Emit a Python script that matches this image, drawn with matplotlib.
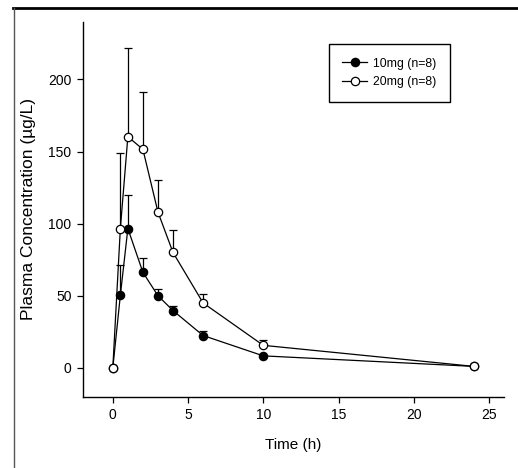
import numpy as np
import matplotlib
matplotlib.use("Agg")
import matplotlib.pyplot as plt
from matplotlib.lines import Line2D

plt.rcParams['font.family'] = ['Liberation Sans', 'DejaVu Sans']

time_h = [0, 0.5, 1, 2, 3, 4, 6, 10, 24]
mean_10mg = [0, 50.2, 96.6, 66.2, 50.0, 39.7, 22.4, 8.3, 1.0]
upper_10mg = [0, 71.5, 119.5, 76.1, 54.7, 43.1, 25.8, 0, 0]
mean_20mg = [0, 96.4, 160.3, 151.5, 108.0, 80.0, 45.0, 15.6, 1.0]
upper_20mg = [0, 149.2, 222.1, 191.2, 130.5, 95.5, 51.4, 19.1, 0]
labels = ['10mg (n=8)', '20mg (n=8)']
xticks = [0, 5, 10, 15, 20, 25]
yticks = [0, 50, 100, 150, 200]

fig = plt.figure(figsize=(5.18, 4.68), dpi=100)
ax = fig.add_axes([0.1597, 0.1524, 0.9730 - 0.1597, 0.9536 - 0.1524])

def draw(mean, upper, face, label):
    t = np.array(time_h, dtype=float)
    m = np.array(mean, dtype=float)
    u = np.array(upper, dtype=float)
    mask = u > m
    ax.errorbar(t[mask], m[mask], yerr=[np.zeros(mask.sum()), (u - m)[mask]],
                fmt='none', ecolor='black', elinewidth=0.9, capsize=3.2,
                capthick=0.9, zorder=2)
    ax.plot(t, m, '-', color='black', lw=0.9, marker='o', markersize=6,
            markerfacecolor=face, markeredgecolor='black', markeredgewidth=0.9,
            label=label, zorder=3)

draw(mean_10mg, upper_10mg, 'black', labels[0])
draw(mean_20mg, upper_20mg, 'white', labels[1])

ax.set_xlim(-2, 26)
ax.set_ylim(-20, 240)
ax.set_xticks(xticks)
ax.set_yticks(yticks)
for s in ['top', 'right']:
    ax.spines[s].set_visible(False)
for s in ['left', 'bottom']:
    ax.spines[s].set_linewidth(1.0)
ax.tick_params(direction='out', length=4, width=0.9, labelsize=10, pad=4)
ax.set_xlabel('Time (h)', fontsize=11, labelpad=12)
ax.set_ylabel('Plasma Concentration (\u00b5g/L)', fontsize=12.5, labelpad=9)

leg = ax.legend(loc='upper left', bbox_to_anchor=(329 / 518, 1 - 44.3 / 468),
                bbox_transform=fig.transFigure, borderaxespad=0, fancybox=False,
                edgecolor='black', framealpha=1, fontsize=8.8, handlelength=2.0,
                borderpad=1.1, labelspacing=0.55, handletextpad=0.5)
leg.get_frame().set_linewidth(1.0)

# figure frame lines
fig.add_artist(Line2D([13 / 518, 1.0], [1 - 7.5 / 468, 1 - 7.5 / 468],
                      transform=fig.transFigure, color='black', lw=2.0))
fig.add_artist(Line2D([13.5 / 518, 13.5 / 518], [1 - 8 / 468, 0.0],
                      transform=fig.transFigure, color='#555555', lw=1.0))

fig.savefig('out.png', dpi=100)
